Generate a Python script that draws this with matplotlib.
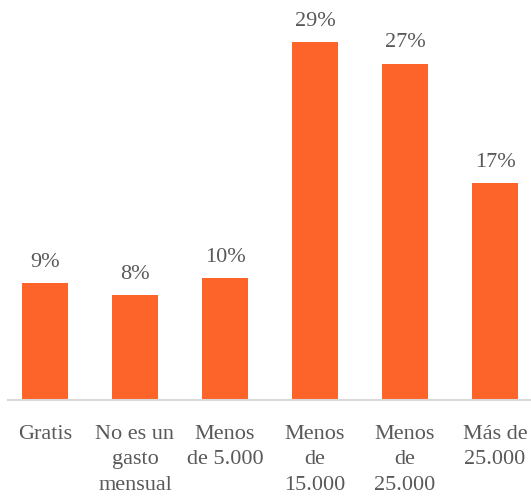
import matplotlib.pyplot as plt

categorias = ['Gratis', 'No es un\ngasto\nmensual', 'Menos\nde 5.000',
              'Menos\nde\n15.000', 'Menos\nde\n25.000', 'Más de\n25.000']
valores = [9.4, 8.4, 9.8, 28.7, 27.0, 17.4]
etiquetas = ['9%', '8%', '10%', '29%', '27%', '17%']

plt.rcParams['font.family'] = ['Liberation Serif', 'DejaVu Serif']

fig = plt.figure(figsize=(5.31, 5.0), dpi=100)
ax = fig.add_axes([8 / 531, 0.2, 523 / 531, 0.8])

x = range(len(categorias))
barras = ax.bar(x, valores, width=0.51, color='#FD6429')

for b, txt in zip(barras, etiquetas):
    ax.annotate(txt, (b.get_x() + b.get_width() / 2, b.get_height()),
                xytext=(0, 8), textcoords='offset points',
                ha='center', va='bottom', fontsize=16, color='#595959')

ax.set_xlim(-0.411, 5.4)
ax.set_ylim(0, 32.1)
ax.set_xticks(list(x))
ax.set_xticklabels(categorias, fontsize=16, color='#595959', linespacing=1.45)
ax.tick_params(axis='x', length=0, pad=18)
ax.set_yticks([])
for s in ['top', 'right', 'left']:
    ax.spines[s].set_visible(False)
ax.spines['bottom'].set_color('#D9D9D9')
ax.spines['bottom'].set_linewidth(1.5)

fig.savefig('out.png', dpi=100)
